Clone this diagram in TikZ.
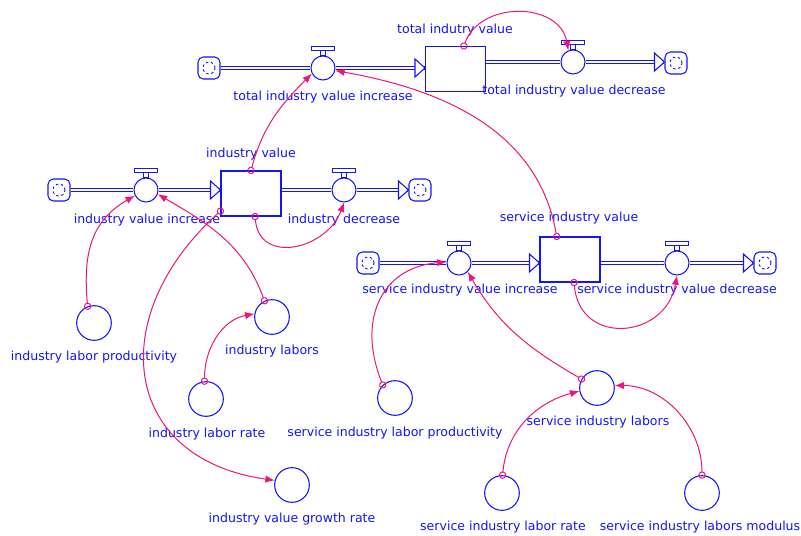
\documentclass[tikz,border=0pt]{standalone}
\usepackage{fontspec}
\setmainfont{DejaVu Sans}
\usetikzlibrary{arrows.meta}
\definecolor{vblue}{RGB}{20,20,250}
\definecolor{vpink}{RGB}{240,20,120}

\begin{document}
\begin{tikzpicture}[x=0.75pt,y=0.75pt,
  lab/.style={text=vblue,font=\fontsize{9.4}{11}\selectfont,inner sep=1pt},
  stock/.style={draw=vblue,fill=white,line width=0.8pt,minimum width=45pt,minimum height=33.75pt,inner sep=0pt},
  valve/.style={draw=vblue,fill=white,circle,line width=0.8pt,minimum size=18pt,inner sep=0pt},
  aux/.style={draw=vblue,circle,line width=0.8pt,minimum size=26pt,inner sep=0pt},
  cloud/.style={draw=vblue,fill=white,rounded corners=4pt,minimum size=16.5pt,inner sep=0pt,line width=0.8pt,
    path picture={\draw[vblue,line width=0.7pt,dash pattern=on 1.8pt off 2pt] (path picture bounding box.center) circle[radius=4.5pt];}},
  pipe/.style={draw=vblue,double=white,double distance=1.6pt,line width=0.7pt},
  pipetip/.style={draw=vblue,fill=white,line width=0.8pt,line join=miter},
  link/.style={vpink,line width=0.75pt,{Circle[open,length=5.5pt,width=5.5pt]}-{Latex[length=7pt,width=5.5pt]},shorten <=-2.75pt}]
\useasboundingbox (0,0) rectangle (801,536);
% total industry value chain
\node[cloud] (c1) at (209,468) {};
\node[valve] (tvinc) at (323,468) {};
\node[stock] (tv) at (455.5,467) {};
\node[valve] (tvdec) at (573,474) {};
\node[cloud] (c2) at (676,473) {};
\node[lab] (tv-l) at (455,506) {total indutry value};
\node[lab] (tvinc-l) at (323,439) {total industry value increase};
\node[lab] (tvdec-l) at (574,445) {total industry value decrease};
% industry value chain
\node[cloud] (c3) at (59,346) {};
\node[valve] (ivinc) at (146,346) {};
\node[stock] (iv) at (251,342.5) {};
\node[valve] (iddec) at (344,346) {};
\node[cloud] (c4) at (420,346) {};
\node[lab] (iv-l) at (251,382) {industry value};
\node[lab] (ivinc-l) at (147,316) {industry value increase};
\node[lab] (iddec-l) at (344,316) {industry decrease};
% service industry value chain
\node[cloud] (c5) at (368,273) {};
\node[valve] (sivinc) at (459,273) {};
\node[stock] (siv) at (570,276.5) {};
\node[valve] (sivdec) at (677,273) {};
\node[cloud] (c6) at (765,273) {};
\node[lab] (siv-l) at (569,318) {service industry value};
\node[lab] (sivinc-l) at (460,246) {service industry value increase};
\node[lab] (sivdec-l) at (677,246) {service industry value decrease};
% auxiliaries
\node[aux] (ilp) at (94,213) {};
\node[aux] (il) at (272,219) {};
\node[aux] (ilr) at (206,137) {};
\node[aux] (ivgr) at (292,51) {};
\node[aux] (silp) at (395,138) {};
\node[aux] (sil) at (597,148) {};
\node[aux] (silr) at (502,43) {};
\node[aux] (silm) at (702,43) {};
\node[lab] (ilp-l) at (94,179) {industry labor productivity};
\node[lab] (il-l) at (272,185) {industry labors};
\node[lab] (ilr-l) at (207,102) {industry labor rate};
\node[lab] (ivgr-l) at (292,17) {industry value growth rate};
\node[lab] (silp-l) at (395,103) {service industry labor productivity};
\node[lab] (sil-l) at (598,114) {service industry labors};
\node[lab] (silr-l) at (503,9) {service industry labor rate};
\node[lab] (silm-l) at (700,9) {service industry labors modulus};
% pipes
\coordinate (tvin) at (tv.west |- c1);
\coordinate (tvout) at (c2.west |- tvdec);
\coordinate (ivin) at (iv.west |- c3);
\coordinate (ivout) at (c4.west);
\coordinate (sivin) at (siv.west |- c5);
\coordinate (sivout) at (c6.west);
\draw[pipe] (c1.east) -- (tvinc.west) (tvinc.east) -- (tvin);
\draw[pipe] (tv.east |- tvdec) -- (tvdec.west) (tvdec.east) -- (tvout);
\draw[pipe] (c3.east) -- (ivinc.west) (ivinc.east) -- (ivin);
\draw[pipe] (iv.east |- iddec) -- (iddec.west) (iddec.east) -- (ivout);
\draw[pipe] (c5.east) -- (sivinc.west) (sivinc.east) -- (sivin);
\draw[pipe] (siv.east |- sivdec) -- (sivdec.west) (sivdec.east) -- (sivout);
\foreach \p in {tvin,tvout,ivin,ivout,sivin,sivout}
  \draw[pipetip] (\p) -- ++(-10,9) -- ++(0,-18) -- cycle;
\foreach \v in {tvinc,tvdec,ivinc,iddec,sivinc,sivdec} {
  \draw[pipetip] ([xshift=-1.9pt]\v.north) rectangle ([xshift=1.9pt,yshift=4pt]\v.north);
  \draw[pipetip] ([xshift=-8.5pt,yshift=4pt]\v.north) rectangle ([xshift=8.5pt,yshift=6.6pt]\v.north);
}
% links
\draw[link] (iv.north) to[out=75,in=225] (tvinc.207);
\draw[link] (tv.70) to[out=70,in=100,looseness=1.2] (tvdec.112);
\draw[link] (siv.120) to[out=100,in=-10] (tvinc.-12);
\draw[link] (iv.210) to[out=222,in=172,looseness=1.45] (ivgr.165);
\draw[link] (iv.-80) to[out=-85,in=-110,looseness=1.4] (iddec.south);
\draw[link] (ilp.111) to[out=95,in=210,looseness=1.1] (ivinc.207);
\draw[link] (il.115) to[out=110,in=-30] (ivinc.-20);
\draw[link] (ilr.95) to[out=90,in=190] (il.170);
\draw[link] (silp.133) to[out=112,in=185,looseness=1.25] (sivinc.175);
\draw[link] (sil.150) to[out=150,in=-60] (sivinc.-45);
\draw[link] (siv.-80) to[out=-85,in=-100,looseness=1.6] (sivdec.south);
\draw[link] (silr.88) to[out=85,in=195] (sil.190);
\draw[link] (silm.90) to[out=90,in=0] (sil.8);
\end{tikzpicture}
\end{document}
